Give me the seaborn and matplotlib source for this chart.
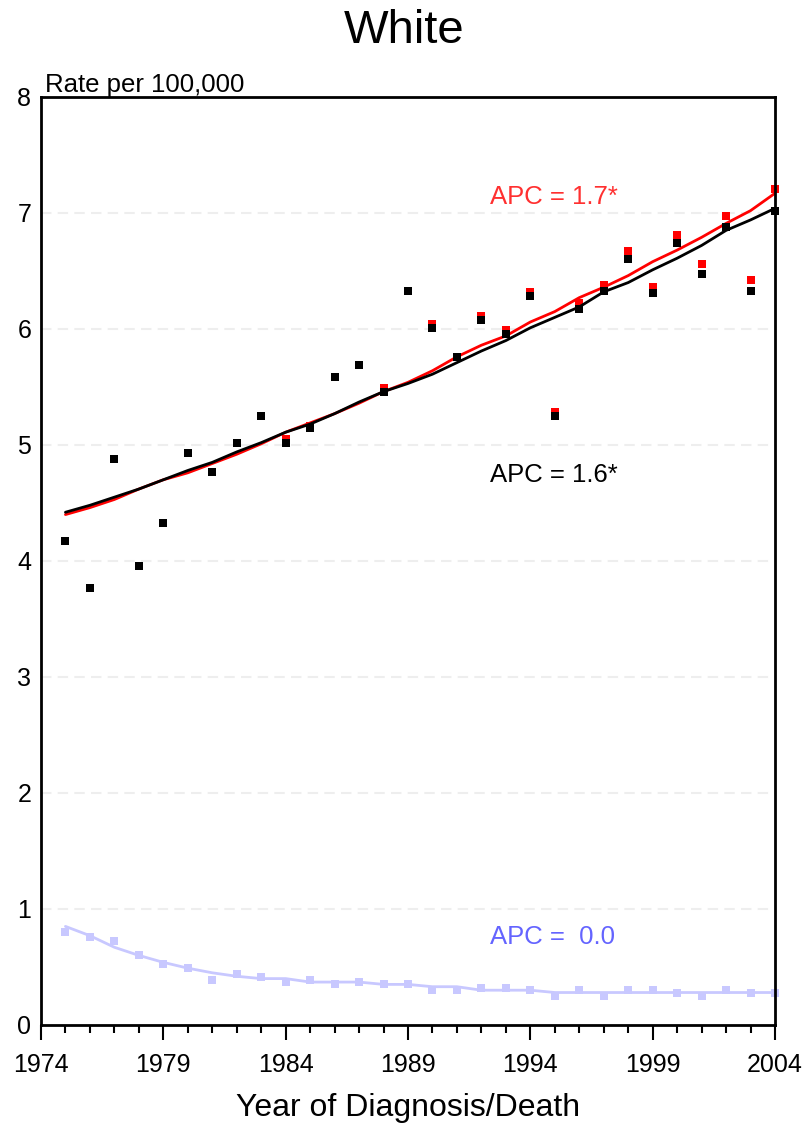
import seaborn as sns
import matplotlib.pyplot as plt
import pandas as pd

years = list(range(1975, 2005))

# observed rates (squares)
obs_red = [4.17, 3.77, 4.88, 3.96, 4.33, 4.93, 4.77, 5.02, 5.25, 5.05,
           5.16, 5.59, 5.69, 5.49, 6.33, 6.04, 5.76, 6.11, 5.99, 6.32,
           5.28, 6.22, 6.38, 6.67, 6.36, 6.81, 6.56, 6.97, 6.42, 7.21]
obs_black = [4.17, 3.77, 4.88, 3.96, 4.33, 4.93, 4.77, 5.02, 5.25, 5.02,
             5.15, 5.59, 5.69, 5.46, 6.33, 6.01, 5.76, 6.08, 5.96, 6.28,
             5.25, 6.17, 6.33, 6.60, 6.31, 6.74, 6.47, 6.88, 6.33, 7.02]
obs_blue = [0.80, 0.76, 0.72, 0.60, 0.53, 0.49, 0.39, 0.44, 0.41, 0.37,
            0.39, 0.35, 0.37, 0.35, 0.35, 0.30, 0.30, 0.32, 0.32, 0.30,
            0.25, 0.30, 0.25, 0.30, 0.30, 0.28, 0.25, 0.30, 0.28, 0.28]

# fitted (joinpoint) lines
fit_red = [4.40, 4.46, 4.53, 4.62, 4.70, 4.76, 4.84, 4.92, 5.01, 5.11,
           5.19, 5.27, 5.36, 5.46, 5.54, 5.64, 5.76, 5.86, 5.94, 6.06,
           6.15, 6.27, 6.36, 6.46, 6.58, 6.68, 6.79, 6.91, 7.02, 7.17]
fit_black = [4.42, 4.48, 4.55, 4.62, 4.70, 4.78, 4.85, 4.94, 5.02, 5.11,
             5.18, 5.27, 5.37, 5.46, 5.53, 5.61, 5.71, 5.81, 5.90, 6.01,
             6.10, 6.19, 6.32, 6.40, 6.51, 6.61, 6.72, 6.85, 6.94, 7.04]
fit_blue = [0.85, 0.77, 0.67, 0.60, 0.54, 0.49, 0.45, 0.42, 0.40, 0.40,
            0.37, 0.37, 0.37, 0.35, 0.35, 0.33, 0.33, 0.30, 0.30, 0.30,
            0.28, 0.28, 0.28, 0.28, 0.28, 0.28, 0.28, 0.28, 0.28, 0.28]

apc_labels = ['APC = 1.7*', 'APC = 1.6*', 'APC =  0.0']
apc_y = [7.14, 4.74, 0.76]

RED = '#ff0000'
BLUE_PT = '#c8c8ff'
BLUE_TXT = '#6464ff'

sns.set_style('white')
plt.rcParams['font.family'] = ['Liberation Sans', 'DejaVu Sans']
plt.rcParams['text.color'] = 'black'
plt.rcParams['axes.labelcolor'] = 'black'
plt.rcParams['xtick.color'] = 'black'
plt.rcParams['ytick.color'] = 'black'

df = pd.DataFrame({'year': years, 'obs_red': obs_red, 'obs_black': obs_black,
                   'obs_blue': obs_blue, 'fit_red': fit_red,
                   'fit_black': fit_black, 'fit_blue': fit_blue})

fig = plt.figure(figsize=(8.08, 11.26), dpi=100)
ax = fig.add_axes([0.0507, 0.0897, 0.9085, 0.8242])

for y in range(1, 8):
    ax.axhline(y, color='#eeeeee', lw=1.5, ls=(0, (5, 3)), zorder=0)

sns.lineplot(data=df, x='year', y='fit_blue', color=BLUE_PT, lw=2, ax=ax)
sns.scatterplot(data=df, x='year', y='obs_blue', color=BLUE_PT, marker='s',
                s=30, linewidth=0, ax=ax, clip_on=False)
sns.lineplot(data=df, x='year', y='fit_red', color=RED, lw=2, ax=ax)
sns.scatterplot(data=df, x='year', y='obs_red', color=RED, marker='s',
                s=30, linewidth=0, ax=ax, clip_on=False)
sns.lineplot(data=df, x='year', y='fit_black', color='black', lw=2, ax=ax)
sns.scatterplot(data=df, x='year', y='obs_black', color='black', marker='s',
                s=30, linewidth=0, ax=ax, zorder=5, clip_on=False)

for lab, yy, c in zip(apc_labels, apc_y, ['#ff3030', 'black', BLUE_TXT]):
    ax.text(1992.35, yy, lab, color=c, fontsize=18.5, va='center', ha='left')

ax.set_xlim(1974, 2004)
ax.set_ylim(0, 8)
ax.set_xticks(range(1974, 2005, 5))
ax.set_xticks(range(1974, 2005), minor=True)
ax.set_yticks(range(0, 9))
ax.tick_params(axis='x', which='major', direction='out', length=11, width=1.5,
               labelsize=18, pad=9, bottom=True)
ax.tick_params(axis='x', which='minor', direction='out', length=5.5, width=1.5,
               bottom=True)
ax.tick_params(axis='y', length=0, labelsize=18, pad=7)
for s in ax.spines.values():
    s.set_color('black')
    s.set_linewidth(2)

ax.set_xlabel('Year of Diagnosis/Death', fontsize=23, labelpad=12)
ax.set_ylabel('')
ax.text(0.006, 1.0, 'Rate per 100,000', transform=ax.transAxes,
        fontsize=18.5, ha='left', va='bottom')
fig.suptitle('White', fontsize=34, y=0.992)

plt.savefig('out.png', dpi=100)
